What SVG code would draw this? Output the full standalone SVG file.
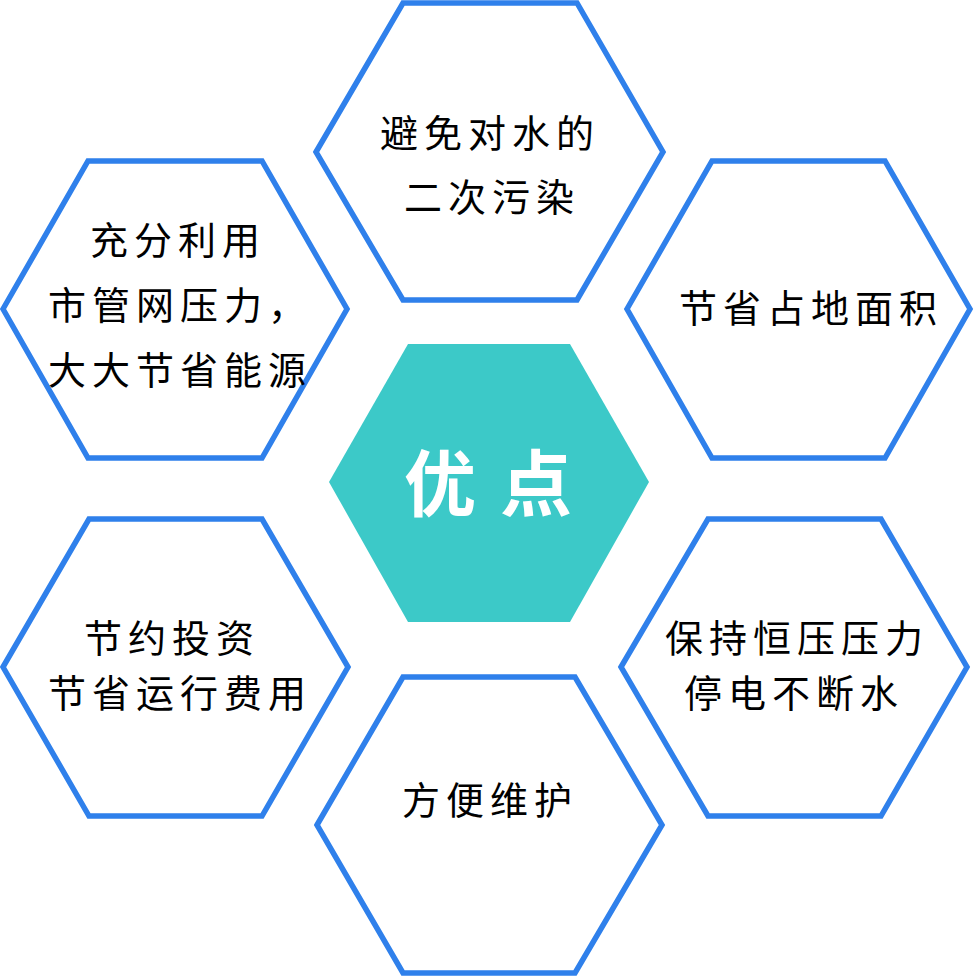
<svg xmlns="http://www.w3.org/2000/svg" width="974" height="978" viewBox="0 0 974 978">
<style>
.hex{fill:#ffffff;stroke:#2F80EB;stroke-width:5.5;stroke-linejoin:miter}
.core{fill:#3CC9C8}
.t{font-family:"Noto Sans CJK SC","Noto Sans",sans-serif;font-size:38px;fill:#000;letter-spacing:6px}
.c{font-family:"Noto Sans CJK SC","Noto Sans",sans-serif;font-size:72px;font-weight:bold;fill:#fff;letter-spacing:24px}
</style>
<rect width="974" height="978" fill="#ffffff"/>
<g id="connectors"></g>
<g id="node-top">
<polygon class="hex" points="316,152 403,3 577,3 663,152 577,300 403,300"/>
<text class="t" x="380" y="147">避免对水的</text>
<text class="t" x="404" y="211">二次污染</text>
</g>
<g id="node-top-left">
<polygon class="hex" points="3,309 88,161 262,161 347,309 262,458 88,458"/>
<text class="t" x="90" y="254">充分利用</text>
<text class="t" x="48" y="319">市管网压力，</text>
<text class="t" x="48" y="384">大大节省能源</text>
</g>
<g id="node-top-right">
<polygon class="hex" points="627,309 712,161 885,161 970,309 885,458 712,458"/>
<text class="t" x="679" y="322">节省占地面积</text>
</g>
<g id="node-center">
<polygon class="core" points="329,482 408,344 570,344 649,482 570,622 408,622"/>
<text class="c" x="404" y="510">优点</text>
</g>
<g id="node-bottom-left">
<polygon class="hex" points="3,667 89,519 262,519 348,667 262,816 89,816"/>
<text class="t" x="84" y="652">节约投资</text>
<text class="t" x="48" y="707">节省运行费用</text>
</g>
<g id="node-bottom-right">
<polygon class="hex" points="621,667 708,519 881,519 967,667 881,816 708,816"/>
<text class="t" x="665" y="652">保持恒压压力</text>
<text class="t" x="684" y="707">停电不断水</text>
</g>
<g id="node-bottom">
<polygon class="hex" points="317,825 403,677 575,677 662,825 575,973 403,973"/>
<text class="t" x="402" y="814">方便维护</text>
</g>
</svg>
